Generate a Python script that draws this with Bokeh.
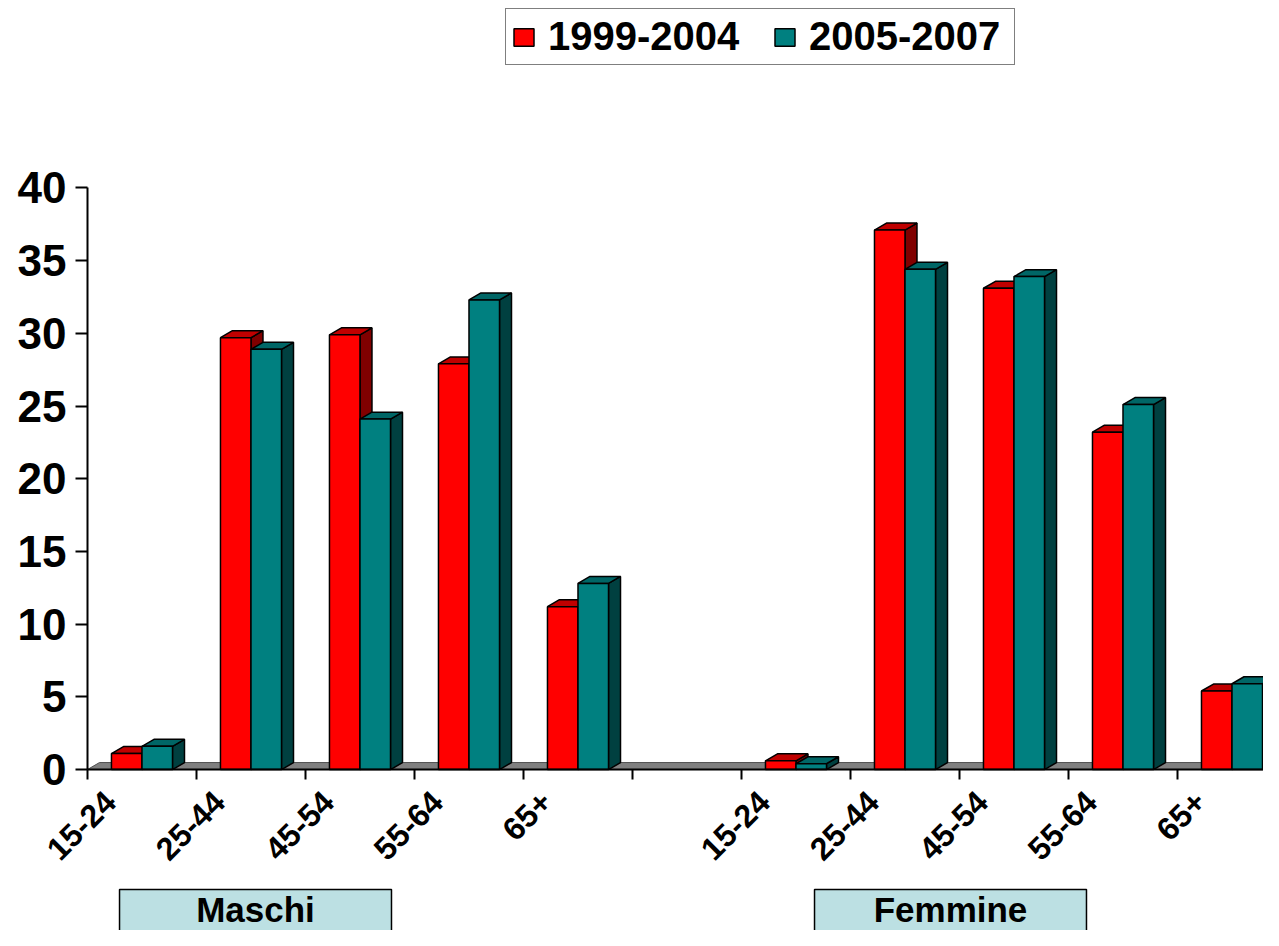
from math import pi
from bokeh.plotting import figure
from bokeh.models import (Range1d, LinearAxis, FixedTicker, Legend, LegendItem,
                          ColumnDataSource)
from bokeh.core.properties import value
from bokeh.embed import file_html
from bokeh.resources import INLINE

# ---------------- data ----------------
age_groups = ["15-24", "25-44", "45-54", "55-64", "65+"]
groups = ["Maschi", "Femmine"]
series_names = ["1999-2004", "2005-2007"]
maschi_1999_2004 = [1.1, 29.7, 29.9, 27.9, 11.2]
maschi_2005_2007 = [1.6, 28.9, 24.1, 32.3, 12.8]
femmine_1999_2004 = [0.6, 37.1, 33.1, 23.2, 5.4]
femmine_2005_2007 = [0.4, 34.4, 33.9, 25.1, 5.9]
y_ticks = [0, 5, 10, 15, 20, 25, 30, 35, 40]

# ---------------- layout constants ----------------
W, H = 1263, 930
FONT = "Liberation Sans"
BAR_W = 0.28          # width of one bar front, in slot units
DX, DY = 0.11, 0.48   # 3D depth offset (slot units, value units)

# slot positions: Maschi 0..4, gap at 5, Femmine 6..10
slots = list(range(5)) + list(range(6, 11))
n_slots = 11
red_vals = maschi_1999_2004 + femmine_1999_2004
teal_vals = maschi_2005_2007 + femmine_2005_2007
labels = age_groups + age_groups

p = figure(width=W, height=H, output_backend="svg", toolbar_location=None,
           x_range=Range1d(-0.798, 10.789), y_range=Range1d(-11.07, 52.89),
           min_border=0, outline_line_color=None)
p.xgrid.visible = False
p.ygrid.visible = False
p.background_fill_color = "white"
p.border_fill_color = "white"

# floor
p.patch([0, DX, n_slots + DX, n_slots], [0, DY, DY, 0],
        fill_color="#808080", line_color="#505050", line_width=1)


def bar_set(vals, offset, front, top, side):
    xs0 = [s + 0.5 + offset for s in slots]
    xs1 = [x + BAR_W for x in xs0]
    side_xs = [[x1, x1, x1 + DX, x1 + DX] for x1 in xs1]
    side_ys = [[0, v, v + DY, DY] for v in vals]
    top_xs = [[x0, x0 + DX, x1 + DX, x1] for x0, x1 in zip(xs0, xs1)]
    top_ys = [[v, v + DY, v + DY, v] for v in vals]
    p.patches(side_xs, side_ys, fill_color=side, line_color="black", line_width=1.5)
    p.patches(top_xs, top_ys, fill_color=top, line_color="black", line_width=1.5)
    src = ColumnDataSource(dict(left=xs0, right=xs1, top=vals, bottom=[0] * len(vals)))
    r = p.quad(left="left", right="right", top="top", bottom="bottom", source=src,
               fill_color=front, line_color="black", line_width=1.5)
    return r


r_red = bar_set(red_vals, -BAR_W, "#FF0000", "#C00000", "#800000")
r_teal = bar_set(teal_vals, 0.0, "#008080", "#006666", "#004040")

# y axis
ya = p.yaxis[0]
ya.fixed_location = 0
ya.bounds = (0, 40)
ya.ticker = FixedTicker(ticks=y_ticks)
ya.major_tick_out = 12
ya.major_tick_in = 0
ya.minor_tick_line_color = None
ya.axis_line_width = 2
ya.major_tick_line_width = 2
ya.axis_line_color = "black"
ya.major_tick_line_color = "black"
ya.major_label_text_color = "black"
ya.major_label_text_font = FONT
ya.major_label_text_font_style = "bold"
ya.major_label_text_font_size = "44px"
ya.major_label_standoff = 9

# x axis (ticks at slot boundaries)
xa = p.xaxis[0]
xa.fixed_location = 0
xa.bounds = (0, n_slots)
xa.ticker = FixedTicker(ticks=list(range(n_slots + 1)))
xa.major_label_overrides = {i: "" for i in range(n_slots + 1)}
xa.major_tick_out = 10
xa.major_tick_in = 0
xa.minor_tick_line_color = None
xa.axis_line_width = 2
xa.major_tick_line_width = 2
xa.axis_line_color = "black"
xa.major_tick_line_color = "black"

# x label axis
label_pos = [s + 0.21 for s in slots]
xl = LinearAxis(fixed_location=0, ticker=FixedTicker(ticks=label_pos),
                major_label_overrides={pos: lab for pos, lab in zip(label_pos, labels)},
                axis_line_color=None, major_tick_line_color=None,
                minor_tick_line_color=None, major_label_orientation=pi / 4,
                major_label_standoff=21, major_label_text_color="black",
                major_label_text_font=FONT, major_label_text_font_style="bold",
                major_label_text_font_size="32px")
p.add_layout(xl, "below")

# group boxes
box_left = [0.294, 6.67]
box_right = [2.789, 9.165]
p.quad(left=box_left, right=box_right, top=[-8.25] * 2, bottom=[-12] * 2,
       fill_color="#BCE0E3", line_color="black", line_width=1.5)
p.text(x=[(a + b) / 2 for a, b in zip(box_left, box_right)], y=[-9.6] * 2,
       text=groups, text_align="center", text_baseline="middle",
       text_color="black",
       text_font=value(FONT), text_font_style="bold", text_font_size="35px")

# legend
legend = Legend(items=[LegendItem(label=series_names[0], renderers=[r_red]),
                       LegendItem(label=series_names[1], renderers=[r_teal])],
                orientation="horizontal", location=(505, 865),
                glyph_width=25, glyph_height=22, label_standoff=12, spacing=24,
                label_width=200, padding=5, margin=0,
                label_text_font=FONT, label_text_font_style="bold",
                label_text_font_size="40px", label_text_color="black",
                border_line_color="black", border_line_width=1.5,
                background_fill_color="white", background_fill_alpha=1)
p.add_layout(legend, "center")

open("out.html", "w").write(file_html(p, INLINE))
